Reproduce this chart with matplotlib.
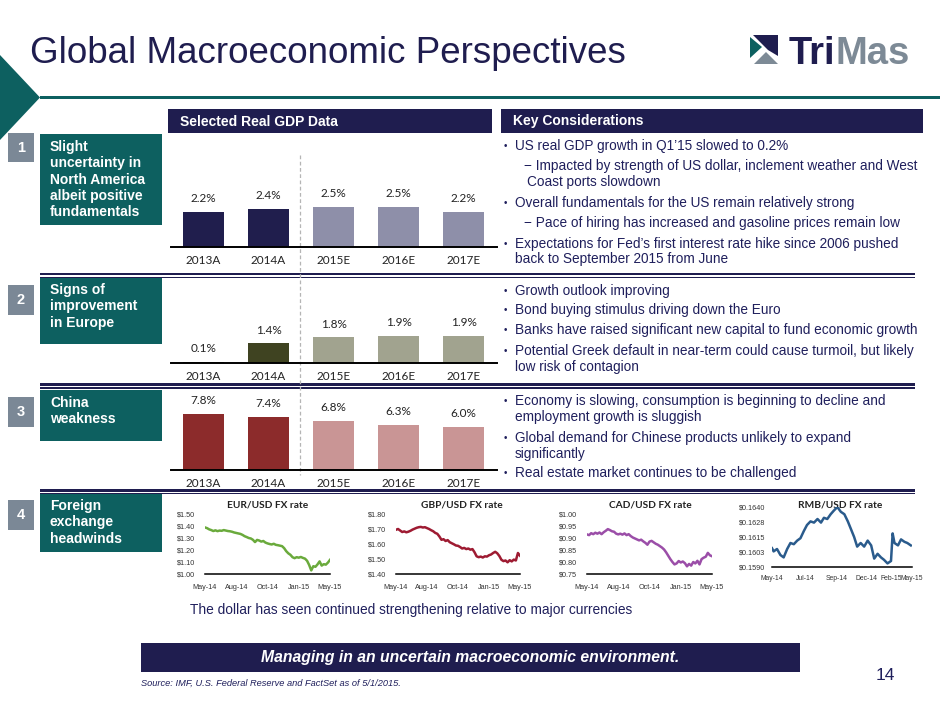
import matplotlib
matplotlib.use('Agg')
import matplotlib.pyplot as plt
from matplotlib.patches import Rectangle, Polygon

# ---------------- DATA ----------------
years = ["2013A", "2014A", "2015E", "2016E", "2017E"]
na_gdp = [2.2, 2.4, 2.5, 2.5, 2.2]
eu_gdp = [0.1, 1.4, 1.8, 1.9, 1.9]
cn_gdp = [7.8, 7.4, 6.8, 6.3, 6.0]

fx_x = [0, 0.2, 0.4, 0.6, 0.8, 1.0, 1.2, 1.4, 1.6, 1.8, 2.0, 2.2, 2.4, 2.6, 2.8, 3.0,
        3.2, 3.4, 3.6, 3.8, 4.0, 4.2, 4.4, 4.6, 4.8, 5.0, 5.2, 5.4, 5.6, 5.8, 6.0,
        6.2, 6.4, 6.6, 6.8, 7.0, 7.2, 7.4, 7.6, 7.8, 8.0, 8.2, 8.4, 8.6, 8.8, 9.0,
        9.2, 9.4, 9.6, 9.8, 10.0, 10.2, 10.4, 10.6, 10.8, 11.0, 11.2, 11.4, 11.6, 11.8, 12.0]
eur_usd = [1.388, 1.382, 1.372, 1.366, 1.358, 1.364, 1.357, 1.362, 1.360, 1.366, 1.362,
           1.358, 1.356, 1.352, 1.346, 1.342, 1.338, 1.334, 1.326, 1.315, 1.308, 1.300,
           1.296, 1.285, 1.266, 1.284, 1.279, 1.270, 1.275, 1.262, 1.255, 1.250, 1.246,
           1.252, 1.243, 1.240, 1.236, 1.232, 1.215, 1.190, 1.172, 1.160, 1.140, 1.132,
           1.140, 1.136, 1.142, 1.134, 1.128, 1.110, 1.075, 1.030, 1.065, 1.060, 1.080,
           1.105, 1.070, 1.082, 1.078, 1.095, 1.118]
gbp_usd = [1.695, 1.700, 1.690, 1.680, 1.684, 1.678, 1.682, 1.688, 1.696, 1.702, 1.708,
           1.712, 1.714, 1.710, 1.712, 1.706, 1.700, 1.692, 1.685, 1.674, 1.668, 1.650,
           1.628, 1.632, 1.620, 1.626, 1.612, 1.605, 1.598, 1.590, 1.588, 1.580, 1.570,
           1.574, 1.566, 1.570, 1.562, 1.566, 1.545, 1.518, 1.512, 1.516, 1.510, 1.518,
           1.516, 1.525, 1.530, 1.540, 1.548, 1.538, 1.520, 1.495, 1.486, 1.490, 1.478,
           1.492, 1.484, 1.496, 1.490, 1.540, 1.522]
cad_usd = [0.915, 0.912, 0.920, 0.916, 0.922, 0.918, 0.923, 0.916, 0.924, 0.930, 0.937,
           0.933, 0.928, 0.926, 0.918, 0.915, 0.918, 0.914, 0.919, 0.912, 0.916, 0.908,
           0.902, 0.898, 0.894, 0.890, 0.893, 0.886, 0.880, 0.872, 0.885, 0.888, 0.882,
           0.876, 0.872, 0.866, 0.860, 0.852, 0.840, 0.826, 0.812, 0.800, 0.790, 0.794,
           0.804, 0.798, 0.802, 0.795, 0.782, 0.792, 0.785, 0.800, 0.794, 0.805, 0.790,
           0.812, 0.818, 0.822, 0.838, 0.828, 0.824]
rmb_x = [0, 0.14, 0.43, 0.72, 1.0, 1.3, 1.58, 1.87, 2.16, 2.44, 2.73, 3.0, 3.3, 3.6, 3.9,
         4.2, 4.45, 4.74, 5.03, 5.3, 5.6, 5.9, 6.2, 6.5, 6.75, 7.04, 7.3, 7.6, 7.9, 8.2,
         8.5, 8.76, 9.05, 9.34, 9.6, 9.9, 10.2, 10.34, 10.5, 10.8, 11.06, 11.35, 11.6, 11.9]
rmb_usd = [0.16057, 0.16030, 0.16050, 0.16000, 0.15980, 0.16050, 0.16100, 0.16090,
           0.16120, 0.16140, 0.16200, 0.16250, 0.16280, 0.16270, 0.16300, 0.16270,
           0.16310, 0.16300, 0.16340, 0.16370, 0.16400, 0.16360, 0.16340, 0.16280,
           0.16220, 0.16150, 0.16070, 0.16100, 0.16070, 0.16120, 0.16080, 0.15970,
           0.16010, 0.15980, 0.15960, 0.15930, 0.15950, 0.16180, 0.16100, 0.16080,
           0.16130, 0.16110, 0.16100, 0.16080]

fx_labels_std = ["May-14", "Aug-14", "Oct-14", "Jan-15", "May-15"]
fx_labels_rmb = ["May-14", "Jul-14", "Sep-14", "Dec-14", "Feb-15", "May-15"]
rmb_ticks = [0, 2.83, 5.57, 8.06, 10.2, 12.0]

# ---------------- STYLE ----------------
W, H = 940, 705
navy = '#1f1d4f'
teal = '#0d6060'
gbox = '#7b8896'
txtc = '#1f1f5c'
SANS = 'Liberation Sans'
CAL = 'Lato'

fig = plt.figure(figsize=(9.4, 7.05), dpi=100)
ax0 = fig.add_axes([0, 0, 1, 1])
ax0.set_xlim(0, W)
ax0.set_ylim(H, 0)
ax0.axis('off')


def fa(x0, y0, x1, y1):
    return [x0 / W, 1 - y1 / H, (x1 - x0) / W, (y1 - y0) / H]


def rect(x0, y0, x1, y1, c):
    ax0.add_patch(Rectangle((x0, y0), x1 - x0, y1 - y0, color=c, lw=0))


def t(x, y, s, **kw):
    d = dict(family=SANS, color=txtc, fontsize=10, va='center', ha='left')
    d.update(kw)
    return ax0.text(x, y, s, **d)


# header decoration
ax0.add_patch(Polygon([(0, 55), (40, 97.5), (0, 140)], closed=True, color=teal, lw=0))
rect(40, 96, 940, 99, teal)
t(30, 63, "Global Macroeconomic Perspectives", fontsize=26.5, color=navy, va='baseline')

# logo
ax0.add_patch(Polygon([(753, 35), (778, 35), (778, 56), (768, 50)], closed=True, color=navy, lw=0))
ax0.add_patch(Polygon([(750, 37), (750, 58), (762, 47)], closed=True, color=teal, lw=0))
ax0.add_patch(Polygon([(754, 64), (778, 64), (766, 52)], closed=True, color='#7d8a96', lw=0))
t1 = ax0.text(789, 63.5, "Tri", family=SANS, fontsize=27.5, fontweight='bold', color=navy,
              va='baseline', ha='left')
ax0.annotate("Mas", xy=(1, 0), xycoords=t1, family=SANS, fontsize=27.5, fontweight='bold',
             color='#7d8a96', va='bottom', ha='left')

# section headers
rect(168, 109, 492, 133, navy)
t(180, 121.5, "Selected Real GDP Data", color='white', fontweight='bold', fontsize=10)
rect(501, 109, 923, 133, navy)
t(513, 121.5, "Key Considerations", color='white', fontweight='bold', fontsize=10)

# number boxes and teal label boxes
nums = [("1", 133, 162), ("2", 285, 315), ("3", 397, 427), ("4", 500, 530)]
for n, a, b in nums:
    rect(8, a, 34, b, gbox)
    t(21, (a + b) / 2, n, ha='center', color='white', fontweight='bold', fontsize=10.5)

boxes = [(134, 225, ["Slight", "uncertainty in", "North America", "albeit positive", "fundamentals"], 147),
         (278, 344, ["Signs of", "improvement", "in Europe"], 290),
         (390, 441, ["China", "weakness"], 403),
         (494, 552, ["Foreign", "exchange", "headwinds"], 506)]
for a, b, lines, y0 in boxes:
    rect(40, a, 162, b, teal)
    for i, ln in enumerate(lines):
        t(50, y0 + i * 16.3, ln, color='white', fontweight='bold', fontsize=10)

# separators
for ys in [272.7, 383.3, 489]:
    rect(40, ys, 915, ys + 2.7, navy)
    rect(40, ys + 4, 915, ys + 5.3, navy)

# dashed divider
ax0.plot([300, 300], [155, 475], color='#b5b5b5', lw=0.9, ls=(0, (3, 2)))

# key considerations text
fs = 9.8
bul = dict(fontsize=7)
right = [
    (146, "•", "US real GDP growth in Q1\u201915 slowed to 0.2%", 0),
    (166, "", "\u2212 Impacted by strength of US dollar, inclement weather and West", 1),
    (182, "", "Coast ports slowdown", 2),
    (203, "•", "Overall fundamentals for the US remain relatively strong", 0),
    (223, "", "\u2212 Pace of hiring has increased and gasoline prices remain low", 1),
    (244, "•", "Expectations for Fed\u2019s first interest rate hike since 2006 pushed", 0),
    (259, "", "back to September 2015 from June", 0),
    (291, "•", "Growth outlook improving", 0),
    (310, "•", "Bond buying stimulus driving down the Euro", 0),
    (330, "•", "Banks have raised significant new capital to fund economic growth", 0),
    (351, "•", "Potential Greek default in near-term could cause turmoil, but likely", 0),
    (367, "", "low risk of contagion", 0),
    (401, "•", "Economy is slowing, consumption is beginning to decline and", 0),
    (417, "", "employment growth is sluggish", 0),
    (438, "•", "Global demand for Chinese products unlikely to expand", 0),
    (454, "", "significantly", 0),
    (473, "•", "Real estate market continues to be challenged", 0),
]
for y, b, s, lvl in right:
    if b:
        t(504, y, b, **bul)
    x = {0: 515, 1: 524, 2: 527}[lvl]
    t(x, y, s, fontsize=fs)

# bottom
t(190, 610, "The dollar has seen continued strengthening relative to major currencies", fontsize=9.9)
rect(141, 643, 800, 672, navy)
t(470, 657.5, "Managing in an uncertain macroeconomic environment.", ha='center', color='white',
  fontweight='bold', style='italic', fontsize=11.3)
t(141, 683, "Source: IMF, U.S. Federal Reserve and FactSet as of 5/1/2015.", style='italic', fontsize=6.7)
t(885, 675, "14", ha='center', fontsize=12.5)


# ---------------- BAR PANELS ----------------
def bar_panel(y_top, y_base, px_per, vals, colors):
    ax = fig.add_axes(fa(171, y_top, 497, y_base))
    ax.patch.set_alpha(0)
    ax.bar(range(len(vals)), vals, width=0.63, color=colors, lw=0)
    ax.set_xlim(-0.5, 4.515)
    ax.set_ylim(0, (y_base - y_top) / px_per)
    for s in ['top', 'left', 'right']:
        ax.spines[s].set_visible(False)
    ax.spines['bottom'].set_linewidth(1.4)
    ax.spines['bottom'].set_color('black')
    ax.set_yticks([])
    ax.set_xticks(range(len(years)))
    ax.set_xticklabels(years, family=CAL, fontsize=8.5, color='#222222')
    ax.tick_params(axis='x', length=0, pad=5.5)
    for i, v in enumerate(vals):
        ax.annotate(f"{v:.1f}%", (i, v), xytext=(0, 9.4), textcoords='offset points',
                    ha='center', va='center', family=CAL, fontsize=8.5, color='#222222')
    return ax


na_cols = ['#201e4d', '#201e4d', '#8e8fa9', '#8e8fa9', '#8e8fa9']
eu_cols = ['#3f4321', '#3f4321', '#a1a38f', '#a1a38f', '#a1a38f']
cn_cols = ['#8c2b2b', '#8c2b2b', '#c99595', '#c99595', '#c99595']
bar_panel(140, 247, 16.0, na_gdp, na_cols)
bar_panel(285, 363, 14.2, eu_gdp, eu_cols)
bar_panel(392, 470, 7.2, cn_gdp, cn_cols)


# ---------------- FX PANELS ----------------
def fx_panel(box, xs, ys, color, ylim, yticks, ylabels, xticks, xlabels, ypad, xpad, xfs=5.2):
    ax = fig.add_axes(fa(*box))
    ax.patch.set_alpha(0)
    ax.plot(xs, ys, color=color, lw=1.8, solid_joinstyle='round')
    ax.set_xlim(0, 12)
    ax.set_ylim(*ylim)
    for s in ['top', 'left', 'right']:
        ax.spines[s].set_visible(False)
    ax.spines['bottom'].set_linewidth(1.1)
    ax.spines['bottom'].set_color('black')
    ax.set_yticks(yticks)
    ax.set_yticklabels(ylabels, family=SANS, fontsize=5.2, color='#333333')
    ax.set_xticks(xticks)
    ax.set_xticklabels(xlabels, family=SANS, fontsize=xfs, color='#333333')
    ax.tick_params(axis='y', length=0, pad=ypad)
    ax.tick_params(axis='x', length=0, pad=xpad)
    return ax


std_ticks = [0, 3, 6, 9, 12]
fx_panel((205, 514, 330, 574), fx_x, eur_usd, '#6aaa3c', (1.0, 1.5),
         [1.0, 1.1, 1.2, 1.3, 1.4, 1.5], ["$1.00", "$1.10", "$1.20", "$1.30", "$1.40", "$1.50"],
         std_ticks, fx_labels_std, 7, 7.5)
fx_panel((396, 514, 520, 574), fx_x, gbp_usd, '#9e1b32', (1.4, 1.8),
         [1.4, 1.5, 1.6, 1.7, 1.8], ["$1.40", "$1.50", "$1.60", "$1.70", "$1.80"],
         std_ticks, fx_labels_std, 7, 7.5)
fx_panel((587, 514, 712, 574), fx_x, cad_usd, '#9b4ea8', (0.75, 1.0),
         [0.75, 0.80, 0.85, 0.90, 0.95, 1.0], ["$0.75", "$0.80", "$0.85", "$0.90", "$0.95", "$1.00"],
         std_ticks, fx_labels_std, 7, 7.5)
fx_panel((772, 507, 912, 567), rmb_x, rmb_usd, '#2a5b8c', (0.1590, 0.1640),
         [0.1590, 0.16025, 0.1615, 0.16275, 0.1640],
         ["$0.1590", "$0.1603", "$0.1615", "$0.1628", "$0.1640"],
         rmb_ticks, fx_labels_rmb, 5, 6, xfs=4.9)

for x, s in [(268, "EUR/USD FX rate"), (462, "GBP/USD FX rate"),
             (650, "CAD/USD FX rate"), (840, "RMB/USD FX rate")]:
    t(x, 505, s, ha='center', family=CAL, fontweight='bold', fontsize=7.3, color='#222222')

fig.savefig('out.png', dpi=100)
